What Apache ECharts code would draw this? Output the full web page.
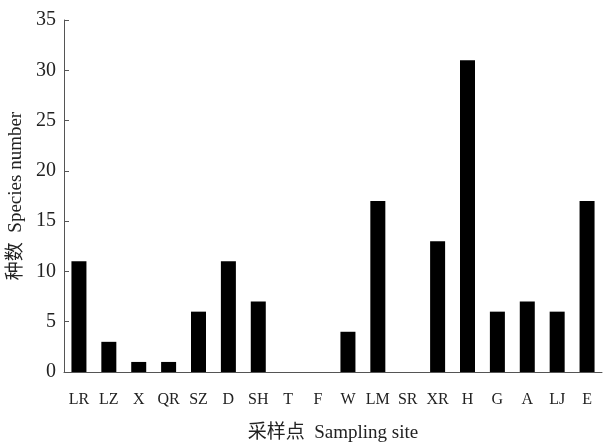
<!DOCTYPE html>
<html>
<head>
<meta charset="utf-8">
<script src="https://cdn.jsdelivr.net/npm/echarts@6/dist/echarts.min.js"></script>
<style>
  html, body { margin: 0; padding: 0; background: #fff; }
  #chart { width: 604px; height: 445px; }
</style>
</head>
<body>
<div id="chart"></div>
<script>
// sampling sites and species counts
const sites = ["LR", "LZ", "X", "QR", "SZ", "D", "SH", "T", "F", "W", "LM", "SR", "XR", "H", "G", "A", "LJ", "E"];
const speciesCount = [11, 3, 1, 1, 6, 11, 7, 0, 0, 4, 17, 0, 13, 31, 6, 7, 6, 17];

const fontFam = "'Liberation Serif', 'Noto Sans CJK SC', serif";
const chart = echarts.init(document.getElementById("chart"));

const option = {
  animation: false,
  grid: { left: 64, right: 2, top: 20, bottom: 73, outerBoundsMode: "none" },
  xAxis: {
    type: "category",
    data: sites,
    name: "采样点  Sampling site",
    nameLocation: "middle",
    nameGap: 52,
    nameTextStyle: { fontFamily: fontFam, fontSize: 19, color: "#222" },
    axisLine: { lineStyle: { color: "#555", width: 1 } },
    axisTick: { inside: true, length: 5, lineStyle: { color: "#555" } },
    axisLabel: { interval: 0, fontFamily: fontFam, fontSize: 16, color: "#222", margin: 20 },
  },
  yAxis: {
    type: "value",
    min: 0,
    max: 35,
    interval: 5,
    name: "种数  Species number",
    nameLocation: "middle",
    nameGap: 38,
    nameTextStyle: { fontFamily: fontFam, fontSize: 19, color: "#222" },
    axisLine: { show: true, lineStyle: { color: "#555", width: 1 } },
    axisTick: { show: true, inside: true, length: 5, lineStyle: { color: "#555" } },
    axisLabel: { fontFamily: fontFam, fontSize: 20, color: "#222", margin: 8 },
    splitLine: { show: false },
  },
  series: [
    {
      type: "bar",
      data: speciesCount,
      barWidth: 15,
      itemStyle: { color: "#000" },
    },
  ],
};

chart.setOption(option);
</script>
</body>
</html>
